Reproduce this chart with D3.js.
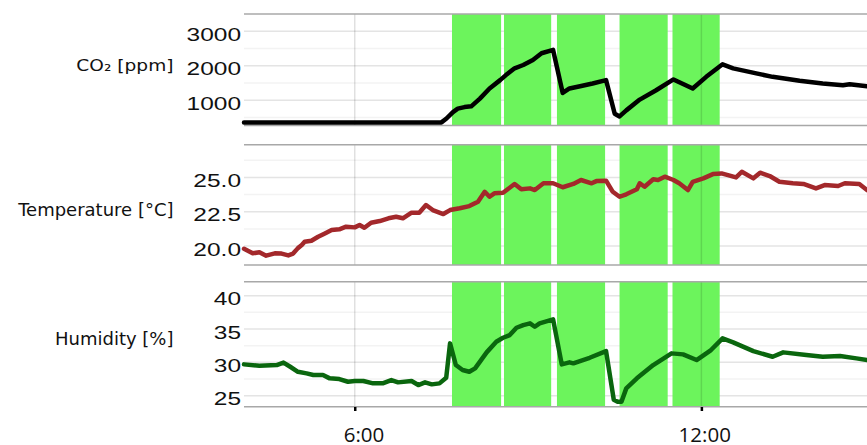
<!DOCTYPE html>
<html>
<head>
<meta charset="utf-8">
<script src="https://cdn.jsdelivr.net/npm/d3@7"></script>
<style>
body { margin: 0; background: #fff; }
</style>
</head>
<body>
<div id="chart"></div>
<script>
// occupied periods (green bands)
var bandStarts = ["7:41", "8:35", "9:30", "10:35", "11:30"]
var bandEnds   = ["8:32", "9:24", "10:20", "11:25", "12:19"]

var xTicks = ["6:00", "12:00"]

var co2Times = ["4:05","7:30","7:35","7:42","7:47","7:54","8:01","8:10","8:20","8:31","8:37","8:46","8:55","9:05","9:14","9:26","9:36","9:43","9:54","10:07","10:21","10:30","10:35","10:42","10:56","11:13","11:31","11:51","12:05","12:22","12:33","12:57","13:14","13:42","14:06","14:27","14:34","14:52"]
var co2Values = [360,360,466,658,758,804,825,1050,1342,1584,1730,1926,2022,2168,2364,2460,1213,1342,1409,1488,1584,612,533,708,1020,1292,1604,1342,1680,2042,1926,1780,1680,1564,1488,1438,1467,1409]
var co2Ticks = [1000, 2000, 3000]
var co2Minor = [500, 1500, 2500]

var tempTimes = ["4:05","4:14","4:21","4:28","4:37","4:44","4:51","4:56","5:01","5:05","5:08","5:15","5:22","5:29","5:36","5:44","5:51","6:00","6:05","6:10","6:17","6:26","6:35","6:43","6:50","6:59","7:07","7:14","7:21","7:32","7:39","7:49","7:59","8:08","8:15","8:20","8:25","8:34","8:46","8:53","9:02","9:07","9:16","9:26","9:36","9:47","9:55","10:06","10:11","10:21","10:28","10:35","10:42","10:53","10:56","11:01","11:10","11:15","11:22","11:31","11:37","11:46","11:51","12:02","12:12","12:21","12:36","12:42","12:54","13:01","13:11","13:21","13:35","13:46","13:59","14:08","14:22","14:29","14:44","14:52"]
var tempValues = [19.80,19.47,19.55,19.30,19.47,19.45,19.32,19.45,19.85,20.07,20.31,20.39,20.68,20.92,21.17,21.22,21.41,21.36,21.53,21.33,21.70,21.82,22.02,22.13,22.02,22.43,22.43,22.99,22.62,22.33,22.62,22.75,22.91,23.23,23.95,23.59,23.84,23.88,24.52,24.13,24.20,24.08,24.57,24.57,24.28,24.52,24.81,24.57,24.73,24.76,23.95,23.59,23.77,24.13,24.57,24.32,24.86,24.81,25.05,24.81,24.57,24.08,24.68,24.93,25.24,25.29,25.00,25.41,24.93,25.34,25.10,24.68,24.57,24.52,24.20,24.44,24.37,24.57,24.52,24.08]
var tempTicks = [20, 22.5, 25]
var tempMinor = [18.75, 21.25, 23.75, 26.25]

var humTimes = ["4:05","4:21","4:39","4:46","4:53","5:01","5:10","5:17","5:27","5:34","5:44","5:53","6:00","6:09","6:19","6:29","6:38","6:45","6:59","7:06","7:13","7:20","7:28","7:35","7:39","7:45","7:52","7:59","8:05","8:17","8:27","8:34","8:41","8:48","8:55","9:02","9:07","9:12","9:26","9:35","9:43","9:47","10:04","10:21","10:29","10:33","10:37","10:42","10:53","11:10","11:29","11:41","11:55","12:10","12:22","12:33","12:54","13:14","13:25","13:49","14:06","14:24","14:41","14:52"]
var humValues = [29.70,29.49,29.60,29.97,29.34,28.59,28.35,28.10,28.10,27.60,27.50,27.09,27.20,27.20,26.85,26.85,27.35,27.00,27.20,26.60,27.00,26.70,26.85,27.69,32.85,29.60,28.85,28.59,29.10,31.50,33.09,33.69,34.09,35.19,35.59,35.85,35.34,35.85,36.45,29.70,30.00,29.85,30.69,31.69,24.40,24.10,24.09,26.10,27.60,29.60,31.35,31.20,30.35,31.85,33.60,33.00,31.69,30.84,31.50,31.09,30.84,30.94,30.60,30.35]
var humTicks = [25, 30, 35, 40]
var humMinor = [27.5, 32.5, 37.5]

var parseTime = d3.timeParse("%H:%M")

var svg_width = 867, svg_height = 445,
    plot_left = 244, plot_right = 867

var svg = d3.select("#chart")
            .append("svg")
            .attr("width", svg_width)
            .attr("height", svg_height)

var xScale = d3.scaleTime()
    .domain([parseTime("4:05"), parseTime("14:52")])
    .range([plot_left, plot_right])

var panels = [
  { label: "CO\u2082 [ppm]", times: co2Times, values: co2Values, domain: [270, 3500],
    top: 14, bottom: 125.5, ticks: co2Ticks, minor: co2Minor, fmt: d3.format("d"),
    color: "#000000", labelSize: 15, labelScale: 1.24, labelY: 70.7 },
  { label: "Temperature [\u00B0C]", times: tempTimes, values: tempValues, domain: [18.62, 27.38],
    top: 144.7, bottom: 265, ticks: tempTicks, minor: tempMinor, fmt: d3.format(".1f"),
    color: "#a3282b", labelSize: 18, labelScale: 1, labelY: 216 },
  { label: "Humidity [%]", times: humTimes, values: humValues, domain: [23.35, 42.1],
    top: 281.7, bottom: 406.7, ticks: humTicks, minor: humMinor, fmt: d3.format("d"),
    color: "#0a660e", labelSize: 18, labelScale: 1, labelY: 345 }
]

panels.forEach(p => {
    var yScale = d3.scaleLinear().domain(p.domain).range([p.bottom, p.top])
    var g = svg.append("g")

    // horizontal grid
    g.selectAll(".minor").data(p.minor.filter(v => yScale(v) < p.bottom - 2)).enter()
      .append("line")
      .attr("x1", plot_left).attr("x2", plot_right)
      .attr("y1", d => yScale(d)).attr("y2", d => yScale(d))
      .style("stroke", "#f3f3f3").style("stroke-width", 1.5)

    g.selectAll(".major").data(p.ticks).enter()
      .append("line")
      .attr("x1", plot_left).attr("x2", plot_right)
      .attr("y1", d => yScale(d)).attr("y2", d => yScale(d))
      .style("stroke", "#e4e4e4").style("stroke-width", 1.5)

    // green bands
    g.selectAll(".band").data(d3.zip(bandStarts, bandEnds)).enter()
      .append("rect")
      .attr("x", d => xScale(parseTime(d[0])))
      .attr("width", d => xScale(parseTime(d[1])) - xScale(parseTime(d[0])))
      .attr("y", p.top).attr("height", p.bottom - p.top)
      .style("fill", "#6cf45c")

    // vertical grid
    g.selectAll(".vgrid").data(xTicks).enter()
      .append("line")
      .attr("x1", d => xScale(parseTime(d))).attr("x2", d => xScale(parseTime(d)))
      .attr("y1", p.top).attr("y2", p.bottom)
      .style("stroke", "#000").style("stroke-opacity", 0.12).style("stroke-width", 1.5)

    // top / bottom border
    g.selectAll(".border").data([p.top, p.bottom]).enter()
      .append("line")
      .attr("x1", plot_left).attr("x2", plot_right)
      .attr("y1", d => d).attr("y2", d => d)
      .style("stroke", "#a8a8a8").style("stroke-width", 1.5)

    var pts = p.times.map((t, i) => ({ t: parseTime(t), v: p.values[i] }))
    var line = d3.line().x(d => xScale(d.t)).y(d => yScale(d.v))

    g.append("path")
      .datum(pts)
      .attr("d", line)
      .style("fill", "none")
      .style("stroke", p.color)
      .style("stroke-width", 4.5)
      .style("stroke-linejoin", "round")
      .style("stroke-linecap", "round")

    // y axis labels
    var yAxis = d3.axisLeft(yScale).tickValues(p.ticks).tickFormat(p.fmt).tickSize(0).tickPadding(0)
    g.append("g")
      .attr("transform", "translate(241,0)")
      .call(yAxis)
      .call(a => a.select(".domain").remove())
      .selectAll("text")
        .attr("x", 0)
        .attr("dy", 9)
        .attr("transform", "scale(1.4,1)")
        .style("font-family", "'Liberation Sans', Arial, sans-serif")
        .style("font-size", "17.5px")
        .style("fill", "#111")

    // series label
    g.append("text")
      .attr("transform", `translate(173.5, ${p.labelY}) scale(${p.labelScale},1)`)
      .attr("text-anchor", "end")
      .style("font-family", "'DejaVu Sans', sans-serif")
      .style("font-size", p.labelSize + "px")
      .style("fill", "#111")
      .text(p.label)
})

// time axis
var xAxis = d3.axisBottom(xScale)
    .tickValues(xTicks.map(parseTime))
    .tickFormat(d3.timeFormat("%-H:%M"))
    .tickSize(4)

svg.append("g")
  .attr("transform", "translate(0, 407)")
  .call(xAxis)
  .call(a => a.select(".domain").remove())
  .call(a => a.selectAll("line").style("stroke", "#000").style("stroke-width", 2.5))
  .selectAll("text")
    .attr("text-anchor", "end")
    .attr("x", 29)
    .attr("y", 34.5)
    .attr("dy", 0)
    .style("font-family", "'Open Sans', sans-serif")
    .style("font-size", "20.5px")
    .style("fill", "#111")
</script>
</body>
</html>
